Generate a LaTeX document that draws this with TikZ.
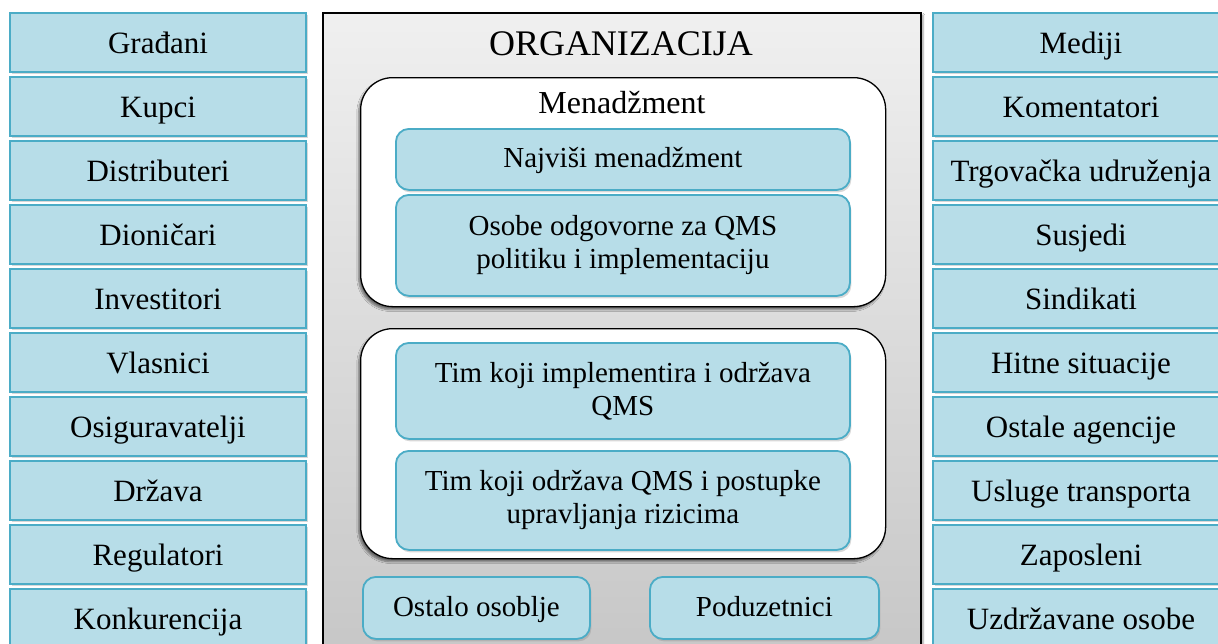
\documentclass[tikz,border=0pt]{standalone}
\usepackage{fontspec}
\setmainfont{Liberation Serif}
\usetikzlibrary{shadows,shadows.blur}
\definecolor{boxfill}{RGB}{183,221,232}
\definecolor{boxline}{RGB}{75,172,198}
\tikzset{
  sbox/.style={draw=boxline, line width=1.8pt, fill=boxfill, minimum width=296pt, minimum height=59pt,
    inner sep=0pt, font=\fontsize{31}{36}\selectfont, text height=21pt, text depth=0pt,
    drop shadow={opacity=0.3, shadow xshift=1.5pt, shadow yshift=-2pt}},
  ibox/.style={draw=boxline, line width=1.8pt, fill=boxfill, rounded corners=13pt, inner sep=0pt,
    font=\fontsize{29}{33}\selectfont, align=center,
    drop shadow={opacity=0.3, shadow xshift=1.5pt, shadow yshift=-2.5pt}},
  oneline/.style={text height=17pt, text depth=0pt},
  wbox/.style={draw=black, line width=1.3pt, fill=white, rounded corners=32pt, inner sep=0pt,
    blur shadow={shadow xshift=-2pt, shadow yshift=-3pt, shadow blur steps=6, shadow opacity=50}},
  orgbox/.style={draw=black, line width=2pt, top color=gray!12, bottom color=gray!45, inner sep=0pt,
    blur shadow={shadow xshift=2pt, shadow yshift=-2pt, shadow blur steps=5, shadow opacity=40}},
  title/.style={font=\fontsize{36}{40}\selectfont, inner sep=0pt, anchor=base},
  subtitle/.style={font=\fontsize{32}{36}\selectfont, inner sep=0pt, anchor=base}
}
\begin{document}
\begin{tikzpicture}[x=1pt,y=-1pt]
\clip (0,0) rectangle (1218,643);
\fill[white] (0,0) rectangle (1218,643);
% left column
\foreach \t [count=\i from 0] in {Građani,Kupci,Distributeri,Dioničari,Investitori,Vlasnici,Osiguravatelji,Država,Regulatori,Konkurencija}{
  \node[sbox] (L\i) at (158, 42.5+64*\i) {\t};
}
% right column
\foreach \t [count=\i from 0] in {Mediji,Komentatori,Trgovačka udruženja,Susjedi,Sindikati,Hitne situacije,Ostale agencije,Usluge transporta,Zaposleni,Uzdržavane osobe}{
  \node[sbox] (R\i) at (1081, 42.5+64*\i) {\t};
}
% organization
\node[orgbox, minimum width=598pt, minimum height=660pt, anchor=north west] (org) at (322,12) {};
\node[title] (orgt) at (621,55) {ORGANIZACIJA};
% management
\node[wbox, minimum width=525pt, minimum height=229pt, anchor=north west] (mgmt) at (360,77) {};
\node[subtitle] (mgmtt) at (622,113) {Menadžment};
\node[ibox, oneline, minimum width=454pt, minimum height=61pt, anchor=north west] (top) at (395,128) {Najviši menadžment};
\node[ibox, minimum width=454pt, minimum height=101pt, anchor=north west] (qms) at (395,194) {Osobe odgovorne za QMS\\politiku i implementaciju};
% teams
\node[wbox, minimum width=525pt, minimum height=230pt, anchor=north west] (teams) at (360,328) {};
\node[ibox, minimum width=454pt, minimum height=96pt, anchor=north west] (tim1) at (395,342) {Tim koji implementira i održava\\QMS};
\node[ibox, minimum width=454pt, minimum height=99pt, anchor=north west] (tim2) at (395,450) {Tim koji održava QMS i postupke\\upravljanja rizicima};
% bottom
\node[ibox, oneline, minimum width=227pt, minimum height=62pt, anchor=north west] (ost) at (362,576) {Ostalo osoblje};
\node[ibox, oneline, minimum width=229pt, minimum height=62pt, anchor=north west] (pod) at (649,576) {Poduzetnici};
\end{tikzpicture}
\end{document}
